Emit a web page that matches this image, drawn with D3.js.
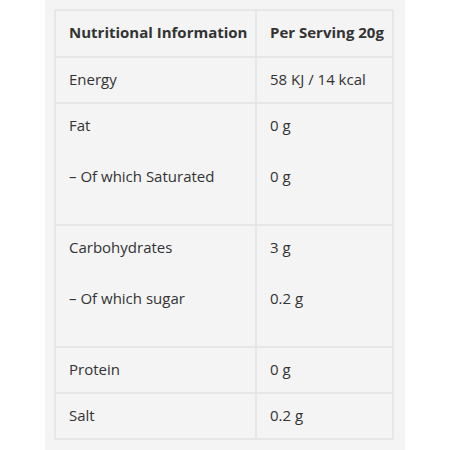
<!DOCTYPE html><html><head><meta charset="utf-8"><script src="https://cdn.jsdelivr.net/npm/d3@7"></script>
<style>body{margin:0;background:#fff}</style></head><body><svg id="c" width="450" height="450"></svg><script>
const headers=["Nutritional Information","Per Serving 20g"];
const nutrients=[["Energy"],["Fat","– Of which Saturated"],["Carbohydrates","– Of which sugar"],["Protein"],["Salt"]];
const amounts=[["58 KJ / 14 kcal"],["0 g","0 g"],["3 g","0.2 g"],["0 g"],["0.2 g"]];
(function(){
const svg=d3.select("#c");
svg.append("rect").attr("x",45).attr("y",0).attr("width",360).attr("height",450).attr("fill","#f4f4f4");
const L=55,R=393,M=256,T0=10,headH=47,lineH=51,pad=46;
const g=svg.append("g").attr("font-family","Open Sans").attr("font-size",15).attr("fill","#333");
const line=(x1,y1,x2,y2)=>svg.append("line").attr("x1",x1).attr("y1",y1).attr("x2",x2).attr("y2",y2).attr("stroke","#e3e3e3").attr("stroke-width",1.5);
g.append("text").attr("x",69).attr("y",T0+28).attr("font-weight","bold").text(headers[0]);
g.append("text").attr("x",270).attr("y",T0+28).attr("font-weight","bold").text(headers[1]);
let y=T0+headH;line(L,y,R,y);
nutrients.forEach((rows,i)=>{
  const h=rows.length===1?pad:pad+lineH+25;
  rows.forEach((t,j)=>{
    g.append("text").attr("x",69).attr("y",y+28+j*lineH).text(t);
    g.append("text").attr("x",270).attr("y",y+28+j*lineH).text(amounts[i][j]);
  });
  y+=h;line(L,y,R,y);
});
line(L,T0,R,T0);line(L,T0,L,y);line(R,T0,R,y);line(M,T0,M,y);
})();
</script></body></html>
